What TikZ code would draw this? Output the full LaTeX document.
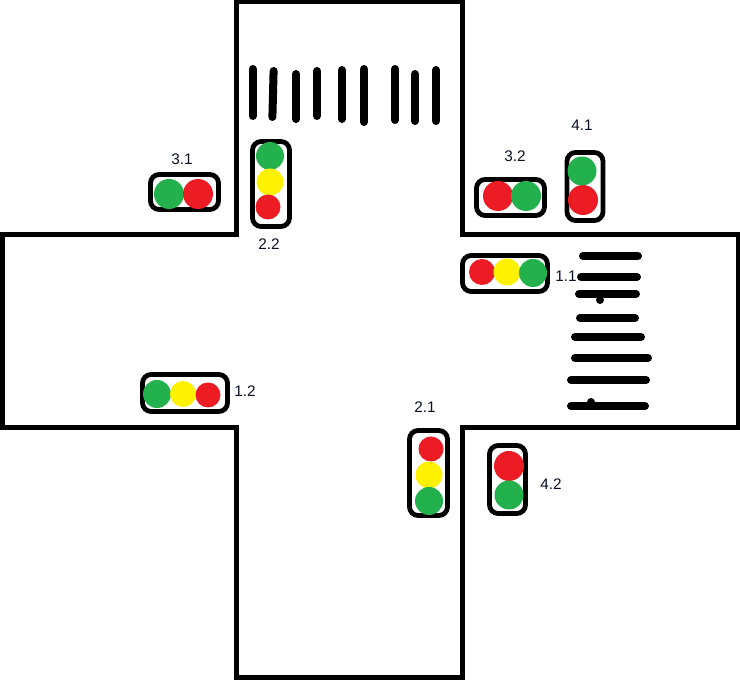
\documentclass[tikz,border=0pt]{standalone}
\usepackage{fontspec}
\setmainfont{Liberation Sans}
\definecolor{lampred}{HTML}{ED1C24}
\definecolor{lampyellow}{HTML}{FFF200}
\definecolor{lampgreen}{HTML}{22B14C}
\definecolor{labelblue}{HTML}{0A1026}
\tikzset{
  road/.style={line width=3.6pt,line join=miter,black},
  stripe/.style={line width=6pt,line cap=round,black},
  housing/.style={draw=black,line width=3.6pt,rounded corners=6.5pt,fill=white,inner sep=0pt},
  lamp/.style={circle,inner sep=0pt,draw=none,minimum size=#1*0.75pt},
  signallabel/.style={font=\fontsize{11.5pt}{13pt}\selectfont,text=labelblue,inner sep=0pt}
}
\begin{document}
\begin{tikzpicture}[x=0.75pt,y=-0.75pt]
\useasboundingbox (0,0) rectangle (740,680);
\fill[white] (0,0) rectangle (740,680);
% road outline
\draw[road] (236.5,1.5) -- (236.5,234.5) -- (2.5,234.5) -- (2.5,427.5) -- (236.5,427.5) -- (236.5,677.5) -- (462.5,677.5) -- (462.5,427.5) -- (738,427.5) -- (738,234.5) -- (462.5,234.5) -- (462.5,1.5) -- cycle;
% upper crossing
\foreach \n/\x/\a/\v/\b in {a/252.7/69/252.7/116,b/273.6/71/272.4/117,c/296/74/296/119,d/317/71/317/116,e/342/70/342/119,f/364/69/364/122,g/395/69/395/120,h/415/74/415/121,i/436/70/436/121}{
  \coordinate (\n1) at (\x,\a); \coordinate (\n2) at (\v,\b);
  \draw[stripe] (\n1) -- (\n2);
}
% right crossing
\foreach \n/\y/\a/\b in {p/256/583/638,q/277/581/637,r/294/579/636,s/318/580/635,t/337/575/641,u/358/575/648,v/380/571/646,w/406/571/645}{
  \coordinate (\n1) at (\a,\y); \coordinate (\n2) at (\b,\y);
  \draw[stripe] (\n1) -- (\n2);
}
\fill (600,300) circle (4);
\fill (591,402) circle (4);
% signal 3.1
\node[housing,minimum width=68*0.75pt,minimum height=35*0.75pt] (h31) at (184.5,192) {};
\node[lamp=30,fill=lampgreen] (l31a) at (169,194) {};
\node[lamp=30,fill=lampred] (l31b) at (198,194) {};
\node[signallabel] (t31) at (182,159) {3.1};
% signal 2.2
\node[housing,minimum width=37*0.75pt,minimum height=85*0.75pt] (h22) at (271,184) {};
\node[lamp=28,fill=lampgreen] (l22a) at (270,156) {};
\node[lamp=27,fill=lampyellow] (l22b) at (270,182) {};
\node[lamp=25,fill=lampred] (l22c) at (268,207) {};
\node[signallabel] (t22) at (269,244) {2.2};
% signal 3.2
\node[housing,minimum width=68*0.75pt,minimum height=36*0.75pt] (h32) at (510.5,197.5) {};
\node[lamp=30,fill=lampred] (l32a) at (498,196) {};
\node[lamp=30,fill=lampgreen] (l32b) at (526,196) {};
\node[signallabel] (t32) at (515,156) {3.2};
% signal 4.1
\node[housing,minimum width=36*0.75pt,minimum height=68*0.75pt] (h41) at (585,186.5) {};
\node[lamp=30,fill=lampred] (l41a) at (583,200) {};
\node[lamp=29,fill=lampgreen] (l41b) at (582,171) {};
\node[signallabel] (t41) at (582,125) {4.1};
% signal 1.1
\node[housing,minimum width=85*0.75pt,minimum height=36*0.75pt] (h11) at (505,273.5) {};
\node[lamp=26,fill=lampred] (l11a) at (482,272) {};
\node[lamp=27,fill=lampyellow] (l11b) at (507,272) {};
\node[lamp=28,fill=lampgreen] (l11c) at (533,273) {};
\node[signallabel] (t11) at (566,276) {1.1};
% signal 1.2
\node[housing,minimum width=85*0.75pt,minimum height=37*0.75pt] (h12) at (185,393) {};
\node[lamp=28,fill=lampgreen] (l12a) at (157,394) {};
\node[lamp=26,fill=lampyellow] (l12b) at (183,394) {};
\node[lamp=25,fill=lampred] (l12c) at (208,395) {};
\node[signallabel] (t12) at (245,391) {1.2};
% signal 2.1
\node[housing,minimum width=38*0.75pt,minimum height=85*0.75pt] (h21) at (428.5,473) {};
\node[lamp=25,fill=lampred] (l21a) at (431,449) {};
\node[lamp=27,fill=lampyellow] (l21b) at (429,475) {};
\node[lamp=28,fill=lampgreen] (l21c) at (429,501) {};
\node[signallabel] (t21) at (425,407) {2.1};
% signal 4.2
\node[housing,minimum width=36*0.75pt,minimum height=68*0.75pt] (h42) at (507.5,479.5) {};
\node[lamp=30,fill=lampred] (l42a) at (509,466) {};
\node[lamp=29,fill=lampgreen] (l42b) at (509,495) {};
\node[signallabel] (t42) at (551,484) {4.2};
\end{tikzpicture}
\end{document}
